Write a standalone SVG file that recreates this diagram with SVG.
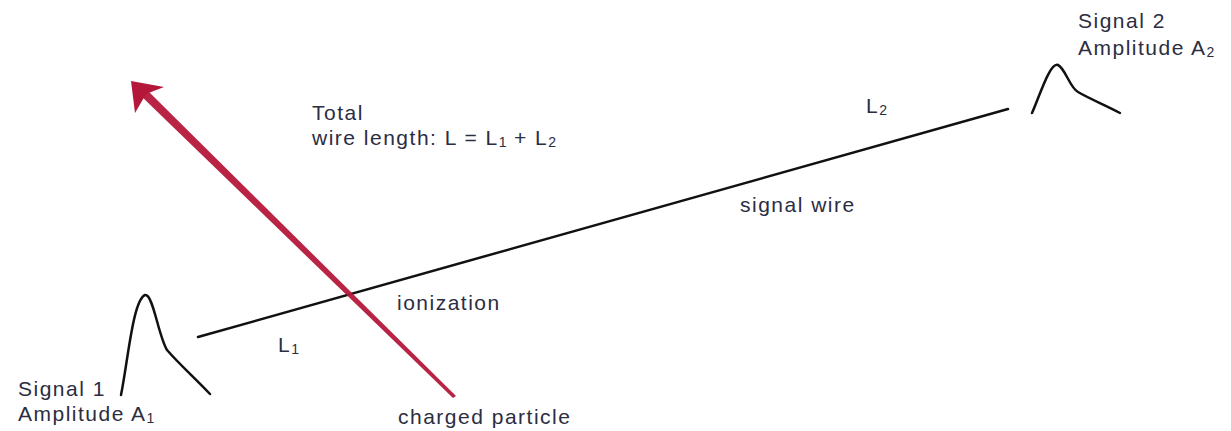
<svg xmlns="http://www.w3.org/2000/svg" width="1231" height="431" viewBox="0 0 1231 431">
<style>
text{font-family:"Liberation Sans",Arial,sans-serif;font-size:21px;letter-spacing:1.5px;fill:#2b2d42}
.sub{font-size:14px;letter-spacing:0}
.blk{fill:none;stroke:#111;stroke-width:2.5;stroke-linecap:round;stroke-linejoin:round}
</style>
<rect width="1231" height="431" fill="#fff"/>
<g id="connectors">
<line class="blk" x1="198" y1="337" x2="1008" y2="109"/>
<polygon points="456,396 453,398 139,94 146,89" fill="#b5173a" opacity="0.95"/>
<polygon points="131,81 164,87 146,94 135,113" fill="#b5173a"/>
</g>
<g id="signal1">
<path class="blk" d="M121,395 C128,360 133,300 145,295 C153,293 158,335 167,350 C180,365 195,378 210,394"/>
<text x="18" y="396">Signal 1</text>
<text x="18" y="421">Amplitude A<tspan class="sub" dy="2">1</tspan></text>
</g>
<g id="signal2">
<path class="blk" d="M1032,113 C1040,95 1050,62 1058,65 C1065,68 1070,88 1078,92 C1090,99 1105,105 1120,113"/>
<text x="1078" y="28">Signal 2</text>
<text x="1078" y="55">Amplitude A<tspan class="sub" dy="2">2</tspan></text>
</g>
<g id="total">
<text x="312" y="120">Total</text>
<text x="312" y="145">wire length: L = L<tspan class="sub" dy="2">1</tspan><tspan dy="-2"> + L</tspan><tspan class="sub" dy="2">2</tspan></text>
</g>
<g id="labels">
<text x="397" y="310">ionization</text>
<text x="278" y="352">L<tspan class="sub" dy="2">1</tspan></text>
<text x="866" y="113">L<tspan class="sub" dy="2">2</tspan></text>
<text x="740" y="212">signal wire</text>
<text x="398" y="424">charged particle</text>
</g>
</svg>
